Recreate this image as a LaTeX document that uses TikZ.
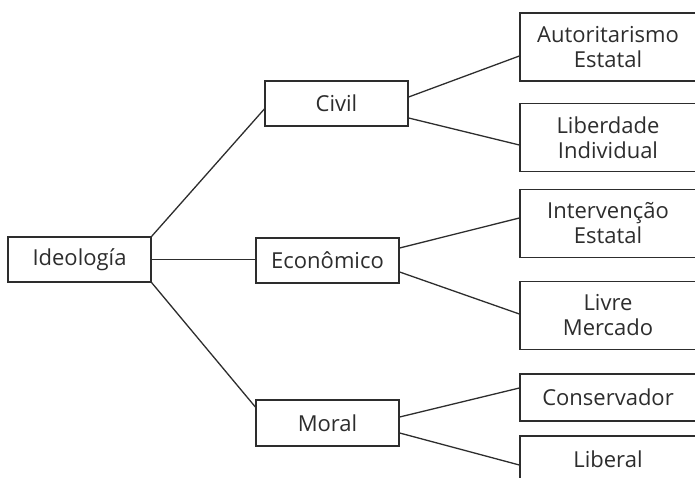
\documentclass[tikz,border=0pt]{standalone}
\usepackage{fontspec}
\setmainfont{Open Sans}
\usetikzlibrary{positioning,calc}
\definecolor{inkcolor}{RGB}{45,45,45}
\tikzset{
  box/.style      = {draw=inkcolor, fill=white, line width=1.3pt, inner sep=0pt,
                     align=center, text=inkcolor, font=\fontsize{22}{25}\selectfont},
  rootbox/.style  = {box, minimum width=143pt, minimum height=45pt},
  midbox/.style   = {box, minimum width=143pt, minimum height=45pt},
  leafbox/.style  = {box, minimum width=176pt, minimum height=68pt},
  shortleaf/.style= {leafbox, minimum height=47pt},
  link/.style     = {draw=inkcolor, line width=1.3pt}
}

\begin{document}
\begin{tikzpicture}[x=1pt,y=-1pt]
\useasboundingbox (0,0) rectangle (695,478);
\clip (0,0) rectangle (695,478);

% --- root ---
\node[rootbox] (ideo) at (79.5,259.5) {Ideología};

% --- middle column ---
\node[midbox] (civil) at (336.5,103.5) {Civil};
\node[midbox] (econ)  at (327.5,260.5) {Econômico};
\node[midbox, minimum height=46pt] (moral) at (327.5,423) {Moral};

% --- right column (two-line leaves) ---
\foreach \y/\name/\txt in {47/auto/{Autoritarismo\\Estatal},
                           137.5/liber/{Liberdade\\Individual},
                           223.5/interv/{Intervenção\\Estatal},
                           315.5/livre/{Livre\\Mercado}}{
  \node[leafbox] (\name) at (608,\y) {\txt};
}
\node[shortleaf] (conserv) at (608,397.5) {Conservador};
\node[shortleaf] (liberal) at (608,459.5) {Liberal};

% --- root -> middle ---
\draw[link] (ideo.north east) -- ([yshift=-5.5pt]civil.west);
\draw[link] (ideo.east) -- (ideo.east -| econ.west);
\draw[link] (ideo.south east) -- ([yshift=16pt]moral.west);

% --- middle -> right ---
\draw[link] ([yshift=6.5pt]civil.east)   -- ([yshift=-9pt]auto.west);
\draw[link] ([yshift=-14.5pt]civil.east) -- ([yshift=-7.5pt]liber.west);
\draw[link] ([yshift=12.5pt]econ.east)   -- ([yshift=5.5pt]interv.west);
\draw[link] ([yshift=-11.5pt]econ.east)  -- ([yshift=1.5pt]livre.west);
\draw[link] ([yshift=6pt]moral.east)     -- ([yshift=9.5pt]conserv.west);
\draw[link] ([yshift=-10pt]moral.east)   -- ([yshift=-5.5pt]liberal.west);

\end{tikzpicture}
\end{document}
